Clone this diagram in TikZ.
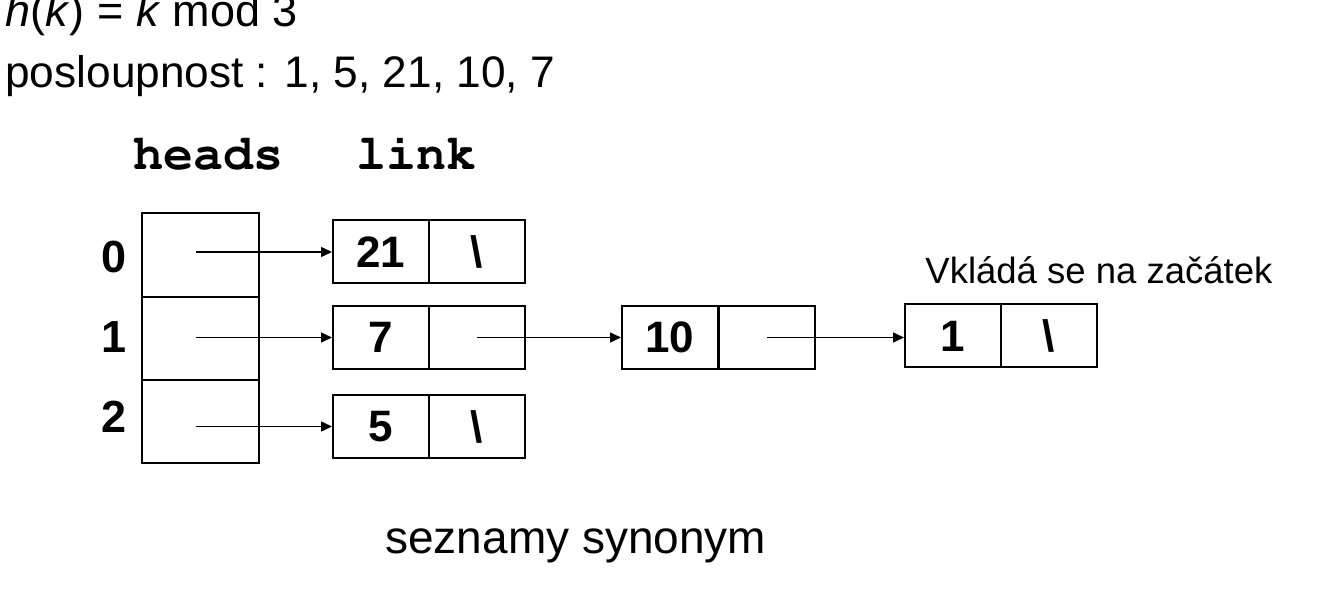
\documentclass[tikz,border=0pt]{standalone}
\usepackage[T1]{fontenc}
\usepackage{fontspec}
\setmainfont{Liberation Sans}
\usetikzlibrary{arrows.meta}
\newcommand{\courbold}{\fontencoding{T1}\fontfamily{pcr}\fontseries{b}\selectfont}
\begin{document}
\begin{tikzpicture}[x=0.5pt,y=-0.5pt,
  half/.style={draw,line width=1pt,minimum width=48pt,minimum height=31.5pt,inner sep=0pt,
    font=\fontsize{22}{26}\selectfont\bfseries},
  headcell/.style={draw,line width=1pt,minimum width=58.5pt,minimum height=41.7pt,inner sep=0pt},
  idx/.style={inner sep=0pt,font=\fontsize{22.5}{26}\selectfont\bfseries},
  hdr/.style={inner sep=0pt,anchor=base,font=\fontsize{25}{30}\courbold},
  txt/.style={inner sep=0pt,anchor=base west},
  arr/.style={line width=0.75pt,-{Triangle[length=5.5pt,width=5pt]}}
]
\useasboundingbox (0,0) rectangle (1334,593);

\node[txt,font=\fontsize{22.5}{27}\selectfont] (f1) at (5,27) {\textit{h}(\textit{k}) = \textit{k} mod 3};
\node[txt,font=\fontsize{22.1}{27}\selectfont] (f2) at (5,88) {posloupnost : 1, 5, 21, 10, 7};

\node[hdr] (hh) at (208,170) {heads};
\node[hdr] (hl) at (416,170) {link};

\node[headcell] (h0) at (200.5,255) {};
\node[headcell] (h1) at (200.5,338.5) {};
\node[headcell] (h2) at (200.5,421.5) {};

\node[idx] (i0) at (114.5,257.5) {0};
\node[idx] (i1) at (114.5,337) {1};
\node[idx] (i2) at (114.5,417) {2};

\node[half] (k0) at (381,252) {21};
\node[half] (p0) at (477,252) {\textbackslash};
\node[half] (k1) at (381,337.5) {7};
\node[half] (p1) at (477,337.5) {};
\node[half] (k2) at (381,426.5) {5};
\node[half] (p2) at (477,426.5) {\textbackslash};

\node[half] (k10) at (670,337.5) {10};
\node[half] (p10) at (766.5,337.5) {};
\node[half] (k11) at (953,336) {1};
\node[half] (p11) at (1049,336) {\textbackslash};

\draw[arr] ([xshift=-2.5pt]h0.center |- k0.west) -- (k0.west);
\draw[arr] ([xshift=-2.5pt]h1.center |- k1.west) -- (k1.west);
\draw[arr] ([xshift=-2.5pt]h2.center |- k2.west) -- (k2.west);
\draw[arr] (p1.center) -- (k10.west);
\draw[arr] (p10.center) -- (p10.center -| k11.west);

\node[txt,font=\fontsize{18.25}{22}\selectfont] (note) at (925,284) {Vkládá se na začátek};
\node[txt,font=\fontsize{23}{28}\selectfont] (cap) at (385,553) {seznamy synonym};
\end{tikzpicture}
\end{document}
